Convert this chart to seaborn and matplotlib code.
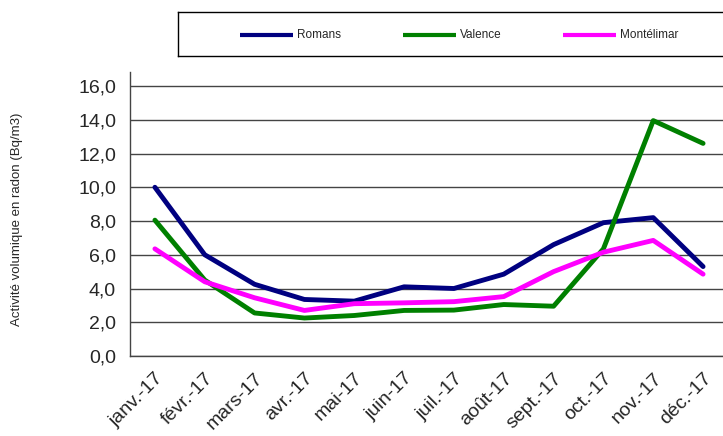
import matplotlib
matplotlib.use("Agg")
import matplotlib.pyplot as plt
from matplotlib.ticker import FixedLocator, FuncFormatter
import numpy as np
import pandas as pd
import seaborn as sns

months = ["janv.-17", "févr.-17", "mars-17", "avr.-17", "mai-17", "juin-17",
          "juil.-17", "août-17", "sept.-17", "oct.-17", "nov.-17", "déc.-17"]
romans = [10.0, 6.0, 4.25, 3.35, 3.25, 4.1, 4.0, 4.85, 6.6, 7.9, 8.2, 5.3]
valence = [8.05, 4.5, 2.55, 2.25, 2.4, 2.7, 2.72, 3.05, 2.95, 6.35, 13.95, 12.6]
montelimar = [6.35, 4.4, 3.45, 2.7, 3.1, 3.15, 3.22, 3.52, 5.0, 6.15, 6.85, 4.85]
sites = ["Romans", "Valence", "Montélimar"]
colors = ["#000080", "#008000", "#FF00FF"]

df = pd.DataFrame({
    "mois": np.tile(np.arange(len(months)), 3),
    "valeur": romans + valence + montelimar,
    "site": np.repeat(sites, len(months)),
})

sns.set_style("white")
plt.rcParams["font.family"] = ["Liberation Sans", "DejaVu Sans"]

W, H = 723, 436
fig = plt.figure(figsize=(W / 100, H / 100), dpi=100)
left, right, bottom, top = 130, 728, 356, 72
ax = fig.add_axes([left / W, 1 - bottom / H, (right - left) / W, (bottom - top) / H])

sns.lineplot(data=df, x="mois", y="valeur", hue="site", palette=colors,
             hue_order=sites, linewidth=3.5, sort=False, ax=ax, legend=False)

ax.set_xlim(-0.5, len(months) - 0.5)
ax.set_ylim(0, 16.83)
ax.set_yticks(np.arange(0, 17, 2))
ax.yaxis.set_major_formatter(FuncFormatter(lambda v, p: f"{v:.1f}".replace(".", ",")))
ax.grid(axis="y", color="#444444", linewidth=1.0)
ax.set_axisbelow(True)

ax.set_xticks(np.arange(len(months)))
ax.set_xticklabels(months, rotation=45, ha="right", va="top", rotation_mode="anchor", fontsize=14)
ax.tick_params(axis="x", which="major", length=0, pad=10)
ax.xaxis.set_minor_locator(FixedLocator(np.arange(-0.5, len(months), 1.0)))
ax.tick_params(axis="x", which="minor", length=5, width=1, color="#444444", direction="out")
ax.tick_params(axis="y", length=6, width=1, color="#444444", direction="out", labelsize=14, pad=4)

for s in ["top", "right"]:
    ax.spines[s].set_visible(False)
for s in ["left", "bottom"]:
    ax.spines[s].set_color("#444444")
    ax.spines[s].set_linewidth(1.0)

ax.set_xlabel("")
ax.set_ylabel("")
fig.text(17 / W, 1 - 219 / H, "Activité volumique en radon (Bq/m3)",
         rotation=90, ha="center", va="center", fontsize=9.5)

# legend box across the top
lax = fig.add_axes([178 / W, 1 - 56 / H, (740 - 178) / W, 44 / H])
lax.set_xlim(178, 740)
lax.set_ylim(56, 12)
lax.set_xticks([])
lax.set_yticks([])
for s in lax.spines.values():
    s.set_color("#000000")
    s.set_linewidth(1.0)
for name, col, x0 in zip(sites, colors, [240, 403, 563]):
    lax.plot([x0, x0 + 53], [35, 35], color=col, linewidth=3.0, solid_capstyle="butt")
    lax.text(x0 + 57, 35, name, ha="left", va="center", fontsize=8.5)

fig.savefig("out.png", dpi=100)
